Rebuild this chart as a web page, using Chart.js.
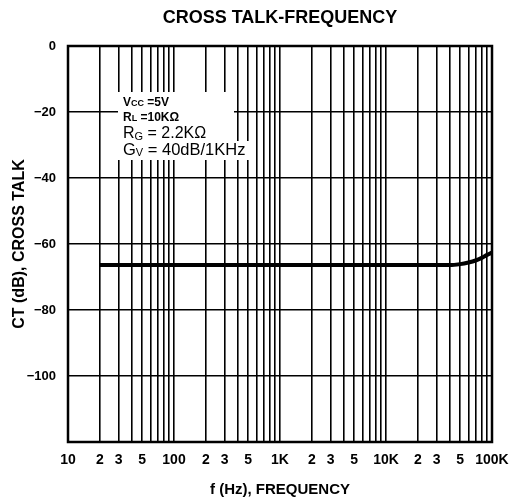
<!DOCTYPE html>
<html>
<head>
<meta charset="utf-8">
<script src="https://cdn.jsdelivr.net/npm/chart.js@4.4.1/dist/chart.umd.min.js"></script>
<style>
  html, body { margin: 0; padding: 0; background: #fff; }
  #wrap { width: 510px; height: 502px; }
</style>
</head>
<body>
<div id="wrap"><canvas id="c" width="510" height="502"></canvas></div>
<script>
// ---- data ----
const chartTitle = 'CROSS TALK-FREQUENCY';
const xAxisTitle = 'f (Hz), FREQUENCY';
const yAxisTitle = 'CT (dB), CROSS TALK';
const freqHz = [20, 100, 1000, 10000, 30000, 40000, 50000, 60000, 70000, 80000, 90000, 100000];
const crossTalkDb = [-66.4, -66.4, -66.4, -66.4, -66.4, -66.4, -66.1, -65.6, -65.0, -64.2, -63.3, -62.6];
const xTickValues = [10,20,30,40,50,60,70,80,90,
                     100,200,300,400,500,600,700,800,900,
                     1000,2000,3000,4000,5000,6000,7000,8000,9000,
                     10000,20000,30000,40000,50000,60000,70000,80000,90000,100000];
const xTickLabels = ['10','2','3','','5','','','','',
                     '100','2','3','','5','','','','',
                     '1K','2','3','','5','','','','',
                     '10K','2','3','','5','','','','','100K'];
const yTickValues = [0, -20, -40, -60, -80, -100, -120];
const yTickLabels = ['0', '\u221220', '\u221240', '\u221260', '\u221280', '\u2212100', ''];
const conditionLines = [
  { main: 'V', sub: 'CC', rest: ' =5V', size: 12, subSize: 9, bold: true, subShift: 1 },
  { main: 'R', sub: 'L', rest: ' =10K\u03A9', size: 12, subSize: 9, bold: true, subShift: 1 },
  { main: 'R', sub: 'G', rest: ' = 2.2K\u03A9', size: 16, subSize: 11, bold: false, subShift: 3 },
  { main: 'G', sub: 'V', rest: ' = 40dB/1KHz', size: 16.5, subSize: 11, bold: false, subShift: 3 }
];

const FONT = "'Liberation Sans', Arial, Helvetica, sans-serif";
Chart.defaults.color = '#000';
Chart.defaults.font.family = FONT;

const framePlugin = {
  id: 'frame',
  beforeDraw(chart) {
    const ctx = chart.ctx;
    ctx.save();
    ctx.fillStyle = '#fff';
    ctx.fillRect(0, 0, chart.width, chart.height);
    ctx.restore();
  },
  afterDraw(chart) {
    const ctx = chart.ctx;
    const a = chart.chartArea;
    ctx.save();
    // white box behind conditions text
    ctx.fillStyle = '#fff';
    ctx.fillRect(a.left + 50, a.top + 46, 116, 68);
    ctx.fillRect(a.left + 50, a.top + 95, 136, 19);
    // text
    ctx.fillStyle = '#000';
    ctx.textBaseline = 'middle';
    const ys = [57, 72, 88, 104];
    conditionLines.forEach((ln, i) => {
      let x = a.left + 55;
      const y = a.top + ys[i];
      const w = ln.bold ? 'bold ' : '';
      ctx.font = w + ln.size + 'px ' + FONT;
      ctx.fillText(ln.main, x, y);
      x += ctx.measureText(ln.main).width;
      ctx.font = w + ln.subSize + 'px ' + FONT;
      ctx.fillText(ln.sub, x, y + ln.subShift);
      x += ctx.measureText(ln.sub).width;
      ctx.font = w + ln.size + 'px ' + FONT;
      ctx.fillText(ln.rest, x, y);
    });
    // frame
    ctx.strokeStyle = '#000';
    ctx.lineWidth = 2.5;
    ctx.strokeRect(a.left, a.top, a.right - a.left, a.bottom - a.top);
    ctx.restore();
  }
};

new Chart(document.getElementById('c'), {
  type: 'line',
  data: {
    datasets: [{
      data: freqHz.map((f, i) => ({ x: f, y: crossTalkDb[i] })),
      borderColor: '#000',
      borderWidth: 4,
      pointRadius: 0,
      cubicInterpolationMode: 'monotone',
      fill: false
    }]
  },
  options: {
    responsive: false,
    animation: false,
    layout: { padding: { left: 0, right: 18, top: 0, bottom: 0 } },
    plugins: {
      legend: { display: false },
      tooltip: { enabled: false },
      title: {
        display: true,
        fullSize: false,
        text: chartTitle,
        color: '#000',
        font: { size: 18, weight: 'bold', family: FONT },
        padding: { top: 7, bottom: 17.4 }
      }
    },
    scales: {
      x: {
        type: 'logarithmic',
        min: 10,
        max: 100000,
        afterBuildTicks(scale) { scale.ticks = xTickValues.map(v => ({ value: v })); },
        afterFit(scale) {
          scale.height = 60;
          scale.paddingLeft = 0;
          scale.paddingRight = 0;
        },
        ticks: {
          autoSkip: false,
          maxRotation: 0,
          minRotation: 0,
          padding: 10,
          color: '#000',
          font: { size: 14, weight: 'bold', family: FONT },
          callback: (v, i) => xTickLabels[i]
        },
        grid: { color: '#000', lineWidth: 1.6, drawTicks: false },
        border: { display: false },
        title: {
          display: true,
          text: xAxisTitle,
          color: '#000',
          font: { size: 15, weight: 'bold', family: FONT },
          padding: { top: 0, bottom: 3 }
        }
      },
      y: {
        type: 'linear',
        min: -120,
        max: 0,
        afterBuildTicks(scale) { scale.ticks = yTickValues.map(v => ({ value: v })); },
        afterFit(scale) {
          scale.width = 68;
          scale.paddingTop = 0;
          scale.paddingBottom = 0;
        },
        ticks: {
          padding: 12,
          color: '#000',
          font: { size: 13, weight: 'bold', family: FONT },
          callback: (v, i) => yTickLabels[i]
        },
        grid: { color: '#000', lineWidth: 1.6, drawTicks: false },
        border: { display: false },
        title: {
          display: true,
          text: yAxisTitle,
          color: '#000',
          font: { size: 16, weight: 'bold', family: FONT },
          padding: { top: 10.4, bottom: 0 }
        }
      }
    }
  },
  plugins: [framePlugin]
});
</script>
</body>
</html>
